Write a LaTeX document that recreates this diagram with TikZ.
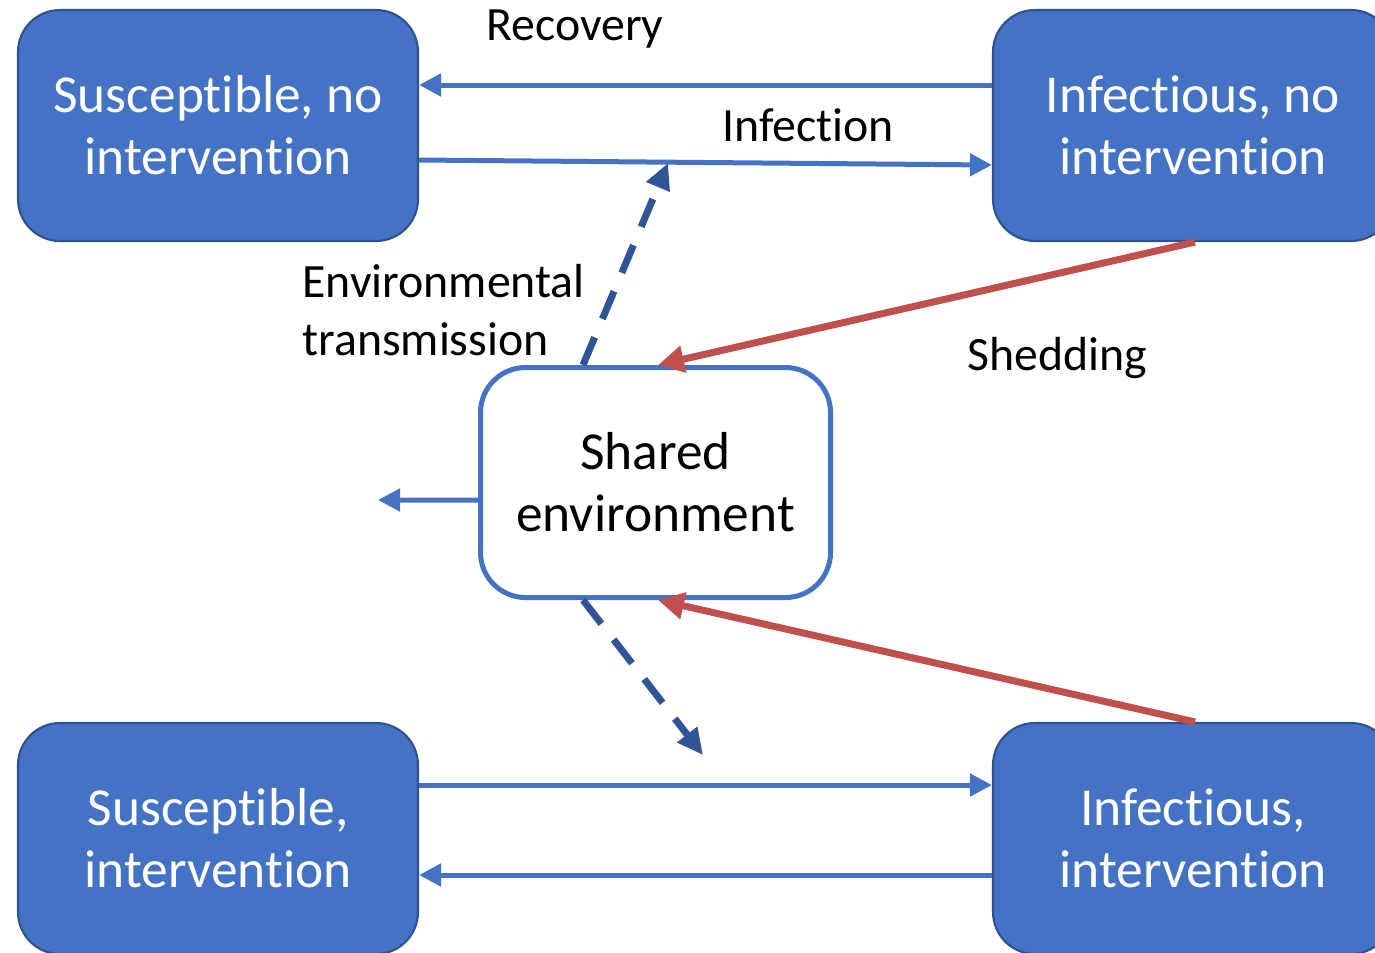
\documentclass[tikz,border=0pt]{standalone}
\usepackage{fontspec}
\setmainfont{Carlito}[Ligatures={NoCommon,NoContextual,NoRequired}]
\usepackage{xcolor}
\definecolor{BoxBlue}{HTML}{4472C4}
\definecolor{BoxEdge}{HTML}{2F528F}
\definecolor{DashBlue}{HTML}{2F5597}
\definecolor{ShedRed}{HTML}{C0504D}
\usetikzlibrary{arrows.meta, positioning, calc}

\begin{document}
\begin{tikzpicture}
\tikzset{
  state/.style={rectangle, rounded corners=0.42cm, fill=BoxBlue, draw=BoxEdge,
    line width=0.6pt, text=white, minimum width=4.0cm, minimum height=2.31cm,
    align=center, font=\fontsize{15.2}{17.6}\selectfont, inner sep=0pt},
  envbox/.style={rectangle, rounded corners=0.45cm, fill=white, draw=BoxBlue,
    line width=0.05cm, minimum width=3.5cm, minimum height=2.3cm,
    align=center, font=\fontsize{15.2}{17.6}\selectfont, inner sep=0pt},
  flow/.style={BoxBlue, line width=0.05cm,
    -{Triangle[length=0.22cm, width=0.22cm]}},
  shed/.style={ShedRed, line width=0.07cm,
    -{Triangle[length=0.26cm, width=0.26cm]}},
  envflow/.style={DashBlue, line width=0.07cm, dash pattern=on 0.3cm off 0.2cm,
    -{Triangle[length=0.26cm, width=0.24cm]}},
  lbl/.style={font=\fontsize{13.6}{16.5}\selectfont, text=black},
}
  \useasboundingbox (0,0) rectangle (13.75,-9.52);

  % Compartments
  \node[state] (sn) at (2.18,-1.255) {Susceptible, no\\intervention};
  \node[state] (in) at (11.93,-1.255) {Infectious, no\\intervention};
  \node[state] (si) at (2.18,-8.385) {Susceptible,\\intervention};
  \node[state] (ii) at (11.93,-8.385) {Infectious,\\intervention};
  \node[envbox] (env) at (6.555,-4.825) {Shared\\environment};

  % Free ends
  \coordinate (inftip) at (6.68,-1.63);
  \coordinate (tiptwo) at (7.03,-7.55);
  \coordinate (decay) at (3.78,-5.0);

  % Recovery and infection, no intervention
  \draw[flow] ([yshift=0.405cm]in.west) -- ([yshift=0.405cm]sn.east);
  \draw[flow] ([yshift=-0.345cm]sn.east) -- ([yshift=-0.395cm]in.west);
  % Infection and recovery, intervention
  \draw[flow] ([yshift=0.535cm]si.east) -- ([yshift=0.535cm]ii.west);
  \draw[flow] ([yshift=-0.365cm]ii.west) -- ([yshift=-0.365cm]si.east);

  % Environment
  \draw[envflow] ([xshift=-0.725cm]env.north) -- (inftip);
  \draw[envflow] ([xshift=-0.725cm]env.south) -- (tiptwo);
  \draw[flow] ([yshift=-0.175cm]env.west) -- (decay);
  \draw[shed] ([xshift=0.02cm]in.south) -- ([xshift=0.025cm]env.north);
  \draw[shed] ([xshift=0.02cm]ii.north) -- ([xshift=0.025cm]env.south);

  % Labels
  \node[lbl] (lrec) at (5.75,-0.29) {Recovery};
  \node[lbl] (linf) at (8.08,-1.25) {Infection};
  \node[lbl, anchor=west, align=left] (lenv) at (2.9,-3.1)
    {Environmental\\transmission};
  \node[lbl] (lshed) at (10.57,-3.58) {Shedding};
\end{tikzpicture}
\end{document}
